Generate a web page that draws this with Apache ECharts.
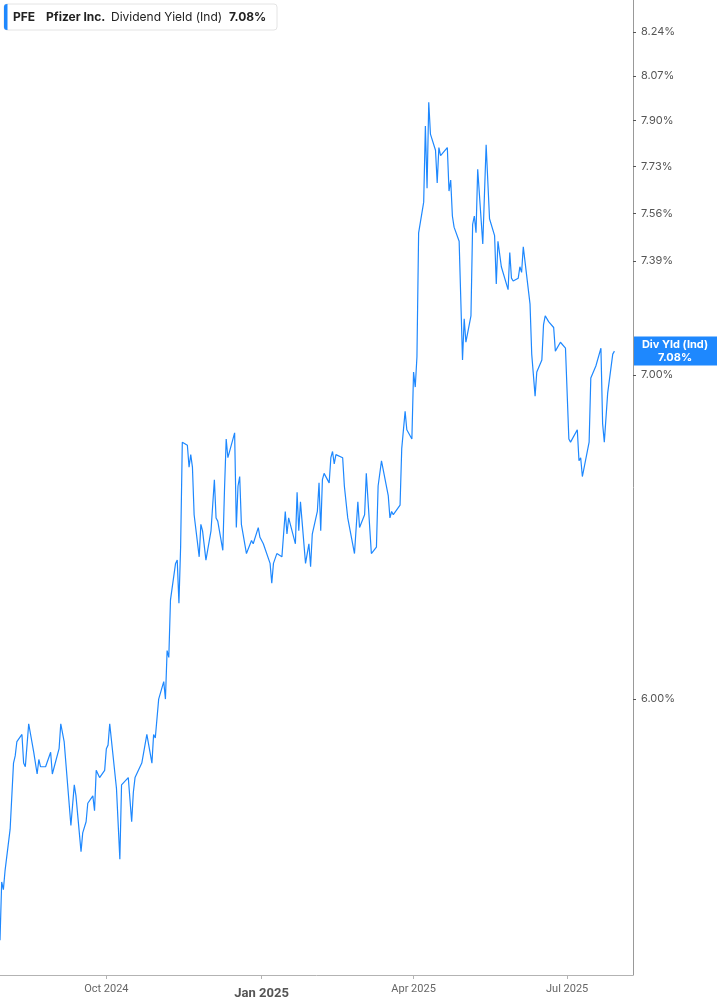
<!DOCTYPE html>
<html>
<head>
<meta charset="utf-8">
<script src="https://cdn.jsdelivr.net/npm/echarts@6/dist/echarts.min.js"></script>
<style>
  html, body { margin: 0; padding: 0; background: #fff; }
  #chart { width: 717px; height: 1005px; }
</style>
</head>
<body>
<div id="chart"></div>
<script>
// PFE dividend yield (indicated)
const dates = [
  '2024-07-30', '2024-07-31', '2024-08-01', '2024-08-02', '2024-08-05', '2024-08-07', '2024-08-08', '2024-08-09',
  '2024-08-12', '2024-08-13', '2024-08-14', '2024-08-16', '2024-08-19', '2024-08-21', '2024-08-22', '2024-08-23',
  '2024-08-26', '2024-08-29', '2024-08-30', '2024-09-03', '2024-09-04', '2024-09-06', '2024-09-10', '2024-09-12',
  '2024-09-13', '2024-09-16', '2024-09-17', '2024-09-19', '2024-09-20', '2024-09-23', '2024-09-24', '2024-09-25',
  '2024-09-27', '2024-09-30', '2024-10-01', '2024-10-02', '2024-10-03', '2024-10-07', '2024-10-08', '2024-10-09',
  '2024-10-10', '2024-10-14', '2024-10-16', '2024-10-17', '2024-10-18', '2024-10-22', '2024-10-23', '2024-10-25',
  '2024-10-28', '2024-10-29', '2024-10-30', '2024-11-01', '2024-11-04', '2024-11-05', '2024-11-06', '2024-11-07',
  '2024-11-08', '2024-11-11', '2024-11-12', '2024-11-13', '2024-11-14', '2024-11-15', '2024-11-18', '2024-11-19',
  '2024-11-20', '2024-11-21', '2024-11-22', '2024-11-25', '2024-11-26', '2024-11-27', '2024-11-29', '2024-12-02',
  '2024-12-04', '2024-12-05', '2024-12-06', '2024-12-09', '2024-12-10', '2024-12-11', '2024-12-12', '2024-12-16',
  '2024-12-17', '2024-12-18', '2024-12-19', '2024-12-20', '2024-12-23', '2024-12-26', '2024-12-27', '2024-12-30',
  '2024-12-31', '2025-01-02', '2025-01-03', '2025-01-06', '2025-01-07', '2025-01-08', '2025-01-10', '2025-01-13',
  '2025-01-15', '2025-01-16', '2025-01-17', '2025-01-21', '2025-01-22', '2025-01-23', '2025-01-24', '2025-01-27',
  '2025-01-29', '2025-01-30', '2025-01-31', '2025-02-03', '2025-02-04', '2025-02-05', '2025-02-06', '2025-02-07',
  '2025-02-10', '2025-02-11', '2025-02-12', '2025-02-13', '2025-02-14', '2025-02-18', '2025-02-19', '2025-02-20',
  '2025-02-21', '2025-02-25', '2025-02-27', '2025-02-28', '2025-03-03', '2025-03-04', '2025-03-07', '2025-03-10',
  '2025-03-11', '2025-03-13', '2025-03-17', '2025-03-18', '2025-03-19', '2025-03-20', '2025-03-24', '2025-03-25',
  '2025-03-27', '2025-03-28', '2025-03-31', '2025-04-01', '2025-04-02', '2025-04-03', '2025-04-04', '2025-04-07',
  '2025-04-08', '2025-04-09', '2025-04-10', '2025-04-11', '2025-04-14', '2025-04-15', '2025-04-16', '2025-04-17',
  '2025-04-21', '2025-04-22', '2025-04-23', '2025-04-24', '2025-04-25', '2025-04-28', '2025-04-30', '2025-05-01',
  '2025-05-02', '2025-05-05', '2025-05-06', '2025-05-07', '2025-05-08', '2025-05-09', '2025-05-12', '2025-05-14',
  '2025-05-16', '2025-05-19', '2025-05-20', '2025-05-21', '2025-05-22', '2025-05-23', '2025-05-27', '2025-05-28',
  '2025-05-29', '2025-05-30', '2025-06-02', '2025-06-03', '2025-06-04', '2025-06-05', '2025-06-09', '2025-06-10',
  '2025-06-12', '2025-06-13', '2025-06-16', '2025-06-17', '2025-06-18', '2025-06-20', '2025-06-23', '2025-06-24',
  '2025-06-27', '2025-06-30', '2025-07-02', '2025-07-03', '2025-07-07', '2025-07-08', '2025-07-09', '2025-07-10',
  '2025-07-14', '2025-07-15', '2025-07-16', '2025-07-18', '2025-07-21', '2025-07-22', '2025-07-23', '2025-07-24',
  '2025-07-25', '2025-07-28', '2025-07-29'
];
const yields = [
  5.35, 5.50, 5.48, 5.53, 5.64, 5.82, 5.84, 5.88,
  5.90, 5.82, 5.81, 5.93, 5.85, 5.79, 5.83, 5.81,
  5.81, 5.85, 5.79, 5.86, 5.93, 5.88, 5.65, 5.76,
  5.73, 5.58, 5.63, 5.66, 5.71, 5.73, 5.69, 5.80,
  5.78, 5.80, 5.86, 5.87, 5.93, 5.75, 5.75, 5.56,
  5.76, 5.78, 5.66, 5.74, 5.78, 5.82, 5.82, 5.90,
  5.82, 5.90, 5.89, 6.00, 6.05, 6.00, 6.14, 6.12,
  6.29, 6.40, 6.41, 6.28, 6.45, 6.78, 6.77, 6.70,
  6.74, 6.70, 6.55, 6.42, 6.52, 6.50, 6.41, 6.50,
  6.66, 6.54, 6.53, 6.44, 6.63, 6.79, 6.73, 6.81,
  6.51, 6.64, 6.67, 6.52, 6.43, 6.47, 6.46, 6.51,
  6.48, 6.46, 6.46, 6.40, 6.34, 6.40, 6.43, 6.42,
  6.56, 6.49, 6.54, 6.46, 6.62, 6.50, 6.59, 6.40,
  6.46, 6.39, 6.49, 6.56, 6.65, 6.50, 6.66, 6.68,
  6.65, 6.73, 6.75, 6.71, 6.74, 6.73, 6.64, 6.64,
  6.54, 6.43, 6.59, 6.51, 6.55, 6.68, 6.43, 6.45,
  6.64, 6.72, 6.61, 6.54, 6.56, 6.55, 6.58, 6.76,
  6.88, 6.82, 6.79, 7.01, 6.96, 7.06, 7.49, 7.60,
  7.88, 7.65, 7.97, 7.85, 7.79, 7.67, 7.80, 7.77,
  7.80, 7.64, 7.68, 7.55, 7.51, 7.46, 7.05, 7.19,
  7.11, 7.20, 7.52, 7.55, 7.49, 7.72, 7.45, 7.81,
  7.54, 7.48, 7.31, 7.46, 7.46, 7.37, 7.29, 7.42,
  7.33, 7.32, 7.33, 7.37, 7.35, 7.44, 7.24, 7.07,
  6.93, 7.01, 7.05, 7.17, 7.20, 7.18, 7.16, 7.08,
  7.11, 7.09, 6.79, 6.78, 6.82, 6.72, 6.73, 6.67,
  6.78, 6.99, 6.99, 7.03, 7.09, 6.84, 6.78, 6.78,
  6.94, 7.07, 7.08
];
const yTicks = [6.00, 7.00, 7.39, 7.56, 7.73, 7.90, 8.07, 8.24];
const xTicks = ['2024-10-01', '2025-01-01', '2025-04-01', '2025-07-01'];
const xLabels = ['Oct 2024', 'Jan 2025', 'Apr 2025', 'Jul 2025'];

const blue = '#1e88fe';
const toTime = (d) => +echarts.time.parse(d);
const xTickTimes = xTicks.map(toTime);
const last = yields[yields.length - 1];

const chart = echarts.init(document.getElementById('chart'));

chart.setOption({
  animation: false,
  backgroundColor: '#fff',
  grid: { left: 0, right: 84, top: 0, bottom: 30, containLabel: false },
  xAxis: {
    type: 'value',
    min: toTime('2024-07-30'),
    max: toTime('2025-08-09'),
    axisLine: { show: true, lineStyle: { color: '#b3b3b3', width: 1 } },
    axisTick: { show: true, customValues: xTickTimes, length: 4, lineStyle: { color: '#b3b3b3' } },
    splitLine: { show: false },
    axisLabel: {
      customValues: xTickTimes,
      margin: 9,
      color: '#666',
      fontFamily: 'Roboto',
      fontSize: 11,
      formatter: (val) => {
        const i = xTickTimes.indexOf(val);
        const txt = i >= 0 ? xLabels[i] : '';
        return i === 1 ? '{b|' + txt + '}' : txt;
      },
      rich: {
        b: { fontFamily: 'Roboto', fontSize: 13, fontWeight: 'bold', color: '#555', padding: [3, 0, 0, 0] }
      }
    }
  },
  yAxis: {
    type: 'log',
    logBase: 10,
    position: 'right',
    min: 5.262,
    max: 8.367,
    axisLine: { show: true, lineStyle: { color: '#999', width: 1 } },
    axisTick: { show: true, customValues: yTicks, length: 3, lineStyle: { color: '#555' } },
    splitLine: { show: false },
    minorTick: { show: false },
    axisLabel: {
      customValues: yTicks,
      margin: 8,
      color: '#555',
      fontFamily: 'Inter',
      fontSize: 11,
      formatter: (v) => v.toFixed(2) + '%'
    }
  },
  series: [{
    type: 'line',
    name: 'Dividend Yield (Ind)',
    data: dates.map((d, i) => [toTime(d), yields[i]]),
    showSymbol: false,
    symbol: 'none',
    lineStyle: { color: blue, width: 1.2 },
    emphasis: { disabled: true }
  }]
});

// header box and the value tag on the right axis (tag placed through the y scale)
const yPix = chart.convertToPixel({ yAxisIndex: 0 }, last);
chart.setOption({
  graphic: [
    {
      type: 'group',
      x: 4, y: 4,
      children: [
        { type: 'rect', shape: { x: 0, y: 0, width: 273, height: 26, r: 3 }, style: { fill: '#fff', stroke: '#e4e4e4', lineWidth: 1 } },
        { type: 'rect', shape: { x: 0, y: 0, width: 3.5, height: 26, r: [3, 0, 0, 3] }, style: { fill: blue } },
        { type: 'text', x: 9, y: 13, style: { text: 'PFE', fill: '#222', font: 'bold 12px Inter', verticalAlign: 'middle' } },
        { type: 'text', x: 42, y: 13, style: { text: 'Pfizer Inc.', fill: '#222', font: 'bold 12px Inter', verticalAlign: 'middle' } },
        { type: 'text', x: 107, y: 13, style: { text: 'Dividend Yield (Ind)', fill: '#222', font: '12px Inter', verticalAlign: 'middle' } },
        { type: 'text', x: 225, y: 13, style: { text: last.toFixed(2) + '%', fill: '#222', font: 'bold 12px Inter', verticalAlign: 'middle' } }
      ]
    },
    {
      type: 'group',
      x: 633, y: yPix - 14.5,
      children: [
        { type: 'rect', shape: { x: 0, y: 0, width: 84, height: 29 }, style: { fill: blue } },
        {
          type: 'text', x: 42, y: 14.5,
          style: {
            text: 'Div Yld (Ind)\n' + last.toFixed(2) + '%',
            fill: '#fff', font: 'bold 11px Inter', align: 'center', verticalAlign: 'middle', lineHeight: 13
          }
        }
      ]
    }
  ]
});
</script>
</body>
</html>
